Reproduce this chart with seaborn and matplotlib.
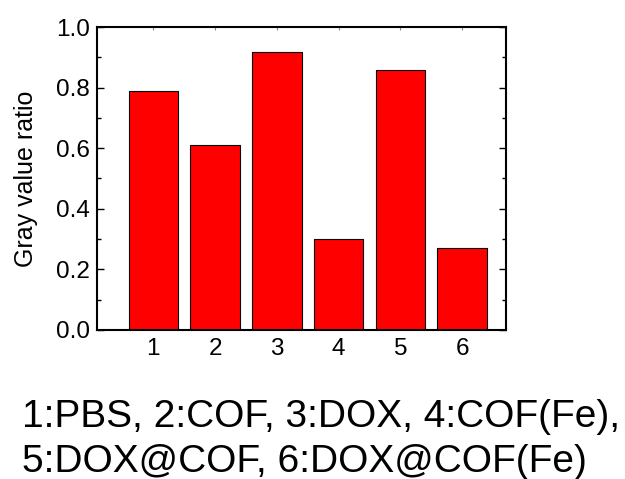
# -*- coding: utf-8 -*-

import matplotlib
matplotlib.use('Agg')
import matplotlib.pyplot as plt
from matplotlib.ticker import MultipleLocator
import pandas as pd
import seaborn as sns

groups = ['1', '2', '3', '4', '5', '6']
names = ['PBS', 'COF', 'DOX', 'COF(Fe)', 'DOX@COF', 'DOX@COF(Fe)']
ratio = [0.788, 0.609, 0.918, 0.301, 0.857, 0.272]

sns.set_style('ticks')
plt.rcParams['font.family'] = ['Liberation Sans', 'DejaVu Sans']
plt.rcParams['text.color'] = 'black'
plt.rcParams['axes.labelcolor'] = 'black'
plt.rcParams['xtick.color'] = 'black'
plt.rcParams['ytick.color'] = 'black'

df = pd.DataFrame({'group': groups, 'ratio': ratio})

fig = plt.figure(figsize=(6.25, 4.79), dpi=100)
ax = fig.add_axes([97/625, 1-330/479, 409/625, 303/479])

sns.barplot(data=df, x='group', y='ratio', color='#ff0000', saturation=1,
            edgecolor='black', linewidth=0.8, width=0.8, ax=ax)

ax.set_xlim(-0.91, 5.71)
ax.set_ylim(0, 1.0)
ax.yaxis.set_major_locator(MultipleLocator(0.2))
ax.yaxis.set_minor_locator(MultipleLocator(0.1))
ax.set_yticks([0, 0.2, 0.4, 0.6, 0.8, 1.0])
ax.set_yticklabels(['0.0', '0.2', '0.4', '0.6', '0.8', '1.0'])

for s in ax.spines.values():
    s.set_visible(True)
    s.set_linewidth(1.5)
    s.set_color('black')

ax.tick_params(axis='y', which='major', direction='in', length=5, width=1,
               labelsize=17.5, pad=5, left=True, right=True, colors='black')
ax.tick_params(axis='y', which='minor', direction='in', length=3, width=1,
               left=True, right=True, colors='black')
ax.tick_params(axis='x', which='major', direction='in', length=2, width=0.8,
               labelsize=17.5, pad=6, bottom=False, top=True,
               color='#888888', labelcolor='black')

ax.set_xlabel('')
ax.set_ylabel('Gray value ratio', fontsize=18, color='black')
ax.yaxis.set_label_coords(-0.145, 0.5)

line1 = ', '.join('%s:%s' % (g, n) for g, n in zip(groups[:4], names[:4])) + ','
line2 = ', '.join('%s:%s' % (g, n) for g, n in zip(groups[4:], names[4:]))
fig.text(22/625, 1-427/479, line1, fontsize=28, va='baseline', ha='left')
fig.text(22/625, 1-472/479, line2, fontsize=28, va='baseline', ha='left')

fig.savefig('out.png', dpi=100)
